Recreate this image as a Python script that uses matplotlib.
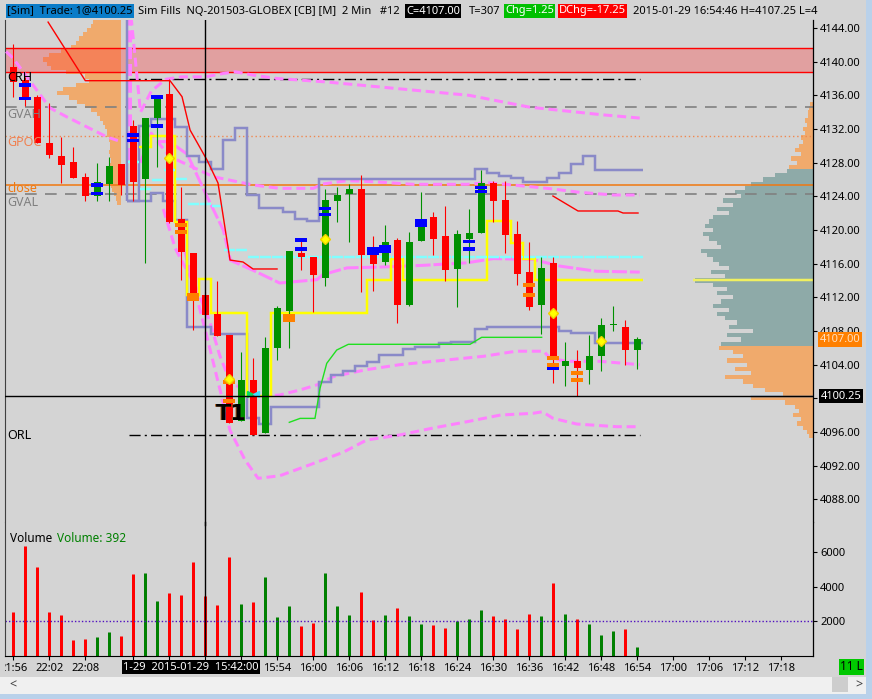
import numpy as np
import matplotlib.pyplot as plt
from matplotlib.patches import Rectangle

plt.rcParams['font.family'] = ['Noto Sans', 'DejaVu Sans']

W, H = 872, 699
BG = '#d4d4d4'

### 2 minute bars (index 0 = 21:56 prior session, 10 = 15:30 new session)
opens  = [4139.4, 4137.8, 4135.8, 4130.3, 4128.8, 4128.1, 4126.3, 4124.0, 4125.5, 4127.8,
          4132.4, 4126.1, 4133.3, 4136.2, 4121.3, 4117.3, 4112.3, 4110.0, 4107.5, 4097.3,
          4102.2, 4095.9, 4106.0, 4110.4, 4117.3, 4116.8, 4114.3, 4123.5, 4124.3, 4124.9,
          4117.0, 4116.2, 4118.8, 4111.1, 4118.7, 4121.5, 4119.3, 4115.4, 4118.9, 4119.7,
          4125.6, 4123.6, 4119.5, 4115.0, 4111.1, 4116.1, 4103.8, 4104.4, 4103.4, 4105.0,
          4108.75, 4108.5, 4105.7]
highs  = [4142.1, 4138.2, 4136.0, 4135.1, 4131.0, 4129.9, 4126.8, 4128.0, 4128.7, 4127.9,
          4133.1, 4133.3, 4135.9, 4138.0, 4125.1, 4117.3, 4112.6, 4113.9, 4107.5, 4105.5,
          4104.8, 4107.3, 4111.0, 4117.5, 4118.8, 4116.8, 4124.9, 4125.1, 4125.5, 4126.5,
          4119.3, 4120.6, 4119.0, 4119.8, 4124.5, 4122.1, 4122.9, 4120.0, 4122.5, 4127.1,
          4125.8, 4125.8, 4121.1, 4118.6, 4116.8, 4116.8, 4106.7, 4105.7, 4107.5, 4109.5,
          4111.0, 4109.3, 4107.25]
lows   = [4135.8, 4134.7, 4130.3, 4128.6, 4125.6, 4126.2, 4123.4, 4123.4, 4123.4, 4124.2,
          4123.4, 4116.1, 4127.5, 4120.8, 4114.1, 4108.1, 4109.9, 4107.4, 4097.1, 4097.3,
          4095.6, 4095.9, 4104.5, 4106.0, 4115.2, 4110.3, 4113.3, 4120.9, 4118.6, 4112.6,
          4112.8, 4115.8, 4109.0, 4111.0, 4118.7, 4117.0, 4113.9, 4110.8, 4116.1, 4119.7,
          4120.9, 4117.3, 4113.5, 4110.5, 4107.7, 4101.8, 4101.5, 4100.3, 4101.7, 4103.3,
          4108.0, 4104.0, 4103.5]
closes = [4137.6, 4135.8, 4130.3, 4128.9, 4127.7, 4126.2, 4124.0, 4125.7, 4127.6, 4125.3,
          4125.7, 4133.3, 4135.7, 4121.0, 4117.4, 4111.6, 4109.9, 4107.4, 4097.1, 4102.2,
          4095.6, 4106.0, 4110.7, 4117.5, 4116.8, 4114.7, 4123.6, 4124.2, 4124.9, 4117.0,
          4116.0, 4118.6, 4111.1, 4118.6, 4120.4, 4118.9, 4115.2, 4119.5, 4119.7, 4125.6,
          4123.5, 4119.4, 4114.8, 4110.9, 4115.5, 4104.6, 4104.4, 4103.6, 4105.0, 4108.7,
          4108.75, 4105.7, 4107.0]
volumes = [2540, 6350, 5150, 2540, 2350, 900, 975, 1090, 1360, 1130,
           4730, 4800, 3180, 3640, 3510, 5440, 3450, 2930, 5730, 2990,
           3120, 4570, 2250, 2870, 1710, 1900, 4800, 2870, 2350, 3700,
           2100, 2350, 2770, 2290, 1830, 1770, 1610, 2000, 2130, 2640,
           2290, 2130, 1560, 2410, 2290, 4220, 2410, 2130, 1830, 1190,
           1440, 1560, 540]

tick_bars   = [0, 3, 6, 10, 13, 16, 19, 22, 25, 28, 31, 34, 37, 40, 43, 46, 49, 52, 55, 58, 61, 64]
tick_labels = ['21:56', '22:02', '22:08', '', '', '', '', '15:54', '16:00', '16:06', '16:12',
               '16:18', '16:24', '16:30', '16:36', '16:42', '16:48', '16:54', '17:00', '17:06',
               '17:12', '17:18']

### reference levels
crh, orl = 4138.0, 4095.6
gvah, gval, gpoc, prev_close = 4134.6, 4124.28, 4131.2, 4125.3
band_top, band_bot = 4141.6, 4138.8
last_price, cross_price, cross_bar = 4107.0, 4100.25, 16

### step indicators (one value per bar, starting bar given)
yellow_start = 11
yellow = [4129.9, 4131.2, 4131.2, 4121.0, 4112.3, 4114.2, 4110.1, 4110.1, 4110.1, 4100.25,
          4100.25] + [4110.1] * 8 + [4114.1] * 2 + [4116.6] + [4114.1] * 7 + [4121.1] * 2 + \
         [4118.4, 4116.6] + [4114.1] * 9
slate_start = 10
slate_hi = [4123.4, 4132.3, 4133.15, 4133.15, 4132.2, 4128.8, 4128.1, 4127.2, 4130.7, 4132.1,
            4124.2, 4122.6, 4122.6, 4122.1, 4121.3, 4121.1] + [4126.06] * 13 + \
           [4127.2, 4126.8, 4126.4, 4126.2, 4125.75, 4125.75, 4126.15, 4126.8, 4127.85, 4128.8] + \
           [4127.1] * 4
slate_lo = [4123.4, 4123.4, 4124.4, 4123.4, 4121.2, 4108.5, 4108.5, 4107.7, 4107.7, 4107.7,
            4097.7, 4097.0] + [4099.0] * 4 + \
           [4101.9, 4102.8, 4103.3, 4103.85, 4104.35, 4105.15, 4105.15, 4105.85, 4106.15,
            4106.15, 4106.55, 4106.75, 4106.75, 4108.2] + [4108.5] * 6 + \
           [4108.0, 4107.8, 4107.8] + [4106.55] * 4
cyan_start = 10
cyan = [4128.1, 4124.9, 4125.9, 4127.1, 4126.1, 4123.1, 4123.1, 4122.9, 4117.6, 4117.6] + [4116.85] * 33

### line indicators as (bar, price)
red_line_a = [(2.9, 4144.7), (6.0, 4137.74), (13.06, 4137.74), (14.06, 4135.84), (14.73, 4131.88),
              (16.14, 4128.32), (17.06, 4125.58), (18.06, 4116.43), (19.14, 4116.2), (19.98, 4115.37),
              (21.98, 4115.37)]
red_line_b = [(44.97, 4124.04), (47.06, 4122.26), (50.39, 4122.26), (50.81, 4122.02), (52.06, 4122.02)]
lime_line = [(23.0, 4097.15), (23.9, 4097.62), (25.14, 4097.62), (25.56, 4101.19), (26.12, 4104.16),
             (26.95, 4105.74), (27.92, 4106.42), (38.06, 4106.42), (39.03, 4107.25), (44.03, 4107.25)]
band_pre = [(-0.6, 4141.2), (-0.03, 4140.44), (3.06, 4134.5), (4.47, 4133.43), (6.14, 4132.24),
            (7.81, 4131.05), (9.06, 4130.46)]
band_up2 = [(9.7, 4147.0), (10.6, 4134.0), (11.5, 4136.5), (12.7, 4137.9), (14.0, 4138.2), (16.0, 4138.2),
            (17.5, 4138.6), (18.5, 4138.8), (20.0, 4138.4), (22.0, 4138.0), (26.0, 4137.6),
            (32.0, 4136.8), (38.0, 4136.0), (43.0, 4134.6), (49.0, 4133.7), (52.2, 4133.3)]
band_up1 = [(10.6, 4128.0), (11.5, 4131.5), (12.3, 4130.0), (13.06, 4128.71), (16.67, 4126.33),
            (19.98, 4125.35), (22.2, 4124.95), (25.0, 4124.95), (25.8, 4125.47), (27.8, 4125.86),
            (30.0, 4125.74), (33.3, 4125.43), (37.8, 4125.43), (39.5, 4125.62), (41.6, 4125.35),
            (44.5, 4124.95), (47.2, 4124.48), (50.0, 4124.16), (52.2, 4124.16)]
band_mid = [(12.0, 4130.5), (13.0, 4130.5), (14.5, 4129.0), (16.0, 4124.4), (17.5, 4120.0),
            (18.1, 4116.4), (20.0, 4115.2), (22.2, 4113.7), (25.3, 4114.1), (25.8, 4114.7),
            (27.8, 4115.5), (30.6, 4115.6), (34.1, 4115.8), (37.8, 4116.1), (40.0, 4116.6),
            (43.3, 4116.5), (45.6, 4115.7), (48.6, 4115.1), (52.2, 4115.0)]
band_lo1 = [(12.5, 4122.5), (13.5, 4117.8), (15.3, 4113.0), (16.4, 4109.0), (17.2, 4105.1),
            (18.1, 4101.9), (20.3, 4100.2), (22.2, 4100.4), (23.9, 4101.0), (25.3, 4101.6),
            (26.7, 4102.6), (29.4, 4103.4), (32.2, 4104.0), (35.0, 4104.4), (39.2, 4105.0),
            (41.9, 4105.6), (44.2, 4105.6), (44.7, 4104.8), (46.1, 4104.4), (48.9, 4104.4),
            (52.2, 4104.0)]
band_lo2 = [(14.0, 4119.0), (16.0, 4108.1), (18.06, 4096.2), (19.3, 4092.7), (20.4, 4090.5),
            (22.2, 4090.8), (24.7, 4092.1), (27.5, 4093.6), (29.45, 4095.05), (32.2, 4095.65),
            (35.0, 4096.48), (37.8, 4097.22), (40.6, 4098.02), (43.3, 4098.22), (44.1, 4098.41),
            (44.97, 4097.63), (46.95, 4096.95), (50.3, 4096.63), (52.2, 4096.63)]

### fills and signals (bar, price)
blue_fills = [(1, 4137.23), (1, 4135.62), (7, 4125.35), (7, 4124.34), (10, 4131.29), (10, 4130.61),
              (12, 4135.8), (12, 4132.38), (24, 4118.81), (24, 4117.74), (26, 4122.53), (26, 4121.82),
              (38, 4118.61), (38, 4117.74), (39, 4125.03), (39, 4124.55), (45, 4103.52)]
blue_big = [(30, 4117.48), (31, 4117.77), (34, 4120.83)]
orange_fills = [(14, 4120.63), (14, 4119.8), (18, 4101.94), (18, 4099.72), (43, 4113.47), (43, 4112.28),
                (45, 4104.79), (45, 4104.0), (47, 4103.01), (47, 4102.18)]
orange_big = [(15, 4112.08), (23, 4109.58)]
diamonds = [(13, 4128.55), (18, 4102.3), (26, 4118.9), (45, 4110.1), (49, 4106.8)]

### volume at price profiles
left_levels = np.arange(4144.75, 4123.0, -0.5)
left_vap = [28, 30, 34, 38, 42, 45, 50, 60, 72, 78, 74, 70, 55, 36, 32, 45, 58, 64, 52, 44,
            36, 30, 24, 21, 18, 16, 14, 14, 12, 11, 11, 12, 11, 10, 11, 12, 11, 10, 11, 10,
            9, 7, 5, 4]
right_levels = np.arange(4135.0, 4095.25, -0.5)
right_vap = [3, 4, 5, 5, 8, 6, 10, 8, 12, 10, 14, 18, 12, 22, 16, 24, 26, 38, 50, 62,
             68, 78, 72, 90, 80, 96, 84, 100, 104, 108, 100, 110, 104, 96, 92, 112, 106, 100, 94, 84,
             102, 88, 118, 100, 86, 96, 80, 92, 100, 84, 96, 88, 76, 84, 60, 86, 72, 92, 94, 80,
             70, 86, 66, 78, 62, 88, 70, 60, 48, 30, 62, 28, 18, 14, 20, 12, 16, 10, 6, 4]
value_area = (4106.5, 4127.0)
profile_poc = 4114.1

# ---------------------------------------------------------------------------
X0, X1 = (5 - 13.3) / 12, (813 - 13.3) / 12
P_LO, P_HI = 4144 - (522 - 28) / 8.417, 4144 + (28 - 20) / 8.417
V_HI = 134 * 57.8
PX = 1 / 12.0                    # bar units per pixel
PT = 0.72                        # points per pixel

fig = plt.figure(figsize=(W / 100, H / 100), dpi=100, facecolor=BG)
ax = fig.add_axes([5 / W, 1 - 522 / H, 808 / W, 502 / H], facecolor=BG)
axv = fig.add_axes([5 / W, 1 - 656 / H, 808 / W, 134 / H], facecolor=BG)
for a in (ax, axv):
    a.set_xlim(X0, X1)
    for s in ('top', 'bottom', 'left'):
        a.spines[s].set_visible(False)
    a.spines['left'].set_visible(True)
    a.spines['left'].set_color('#404040')
    a.spines['left'].set_linewidth(0.8)
    a.spines['right'].set_color('black')
    a.spines['right'].set_linewidth(0.9)
    a.yaxis.tick_right()
    a.tick_params(axis='y', direction='out', length=3, width=0.8, pad=2, labelsize=8, colors='black')
ax.set_ylim(P_LO, P_HI)
axv.set_ylim(0, V_HI)
axv.spines['bottom'].set_visible(True)
axv.spines['bottom'].set_color('black')

ax.set_yticks(np.arange(4088, 4145, 4))
ax.set_yticklabels(['%.2f' % v for v in np.arange(4088, 4145, 4)])
ax.set_xticks([])
axv.set_yticks([2000, 4000, 6000])
axv.set_yticklabels(['2000', '4000', '6000'])
axv.set_xticks(tick_bars)
axv.set_xticklabels(tick_labels)
axv.tick_params(axis='x', direction='out', length=3, width=0.8, pad=2, labelsize=8, colors='black')
clip = Rectangle((5, 0), 808, H, transform=None)
for lab in axv.get_xticklabels():
    lab.set_clip_path(clip)

# profiles
ax.barh(left_levels, [-v * PX for v in left_vap], left=(121 - 13.3) / 12, height=0.5,
        color='#f0aa6c', linewidth=0, zorder=1)
rcol = ['#8eaaa8' if value_area[0] <= p <= value_area[1] else '#f0aa6c' for p in right_levels]
ax.barh(right_levels, [-v * PX for v in right_vap], left=X1, height=0.5, color=rcol,
        linewidth=0, zorder=1)
ax.hlines(profile_poc, X1 - 120 * PX, X1, color='#f0f060', lw=2.5 * PT, zorder=2)
ax.hlines(cross_price, X1 - 63 * PX, X1, color='#3070c0', lw=1, zorder=2)

# red band
ax.axhspan(band_bot, band_top, facecolor=(1, 0.2, 0.2), alpha=0.32, lw=0, zorder=2)
ax.axhline(band_top, color='red', lw=1, zorder=2)
ax.axhline(band_bot, color='red', lw=1, zorder=2)

# reference lines
ax.axhline(gvah, color='#808080', lw=1.2, dashes=(7, 5), zorder=2)
ax.axhline(gval, color='#808080', lw=1.2, dashes=(7, 5), zorder=2)
ax.axhline(gpoc, color='#f08850', lw=1, linestyle=(0, (1, 2)), zorder=2)
ax.axhline(prev_close, color='#f07810', lw=1.1, zorder=2)
for lvl in (crh, orl):
    ax.hlines(lvl, (129 - 13.3) / 12, (640 - 13.3) / 12, color='black', lw=1,
              linestyle=(0, (8, 3, 1.5, 3)), zorder=2)

lt = ax.get_yaxis_transform()
ax.text(2 / 808, 4138.1, 'CRH', transform=lt, fontsize=9, color='black', va='center', zorder=6)
ax.text(2 / 808, 4133.7, 'GVAH', transform=lt, fontsize=9, color='#808080', va='center', zorder=6)
ax.text(2 / 808, 4130.35, 'GPOC', transform=lt, fontsize=9, color='#f08050', va='center', zorder=6)
ax.text(2 / 808, 4124.95, 'close', transform=lt, fontsize=9, color='#f07810', va='center', zorder=6)
ax.text(2 / 808, 4123.3, 'GVAL', transform=lt, fontsize=9, color='#808080', va='center', zorder=6)
ax.text(2 / 808, orl, 'ORL', transform=lt, fontsize=9, color='black', va='center', zorder=6)


def xy(pts):
    return [p[0] for p in pts], [p[1] for p in pts]


# vwap bands
pink = '#ff80ff'
for band in (band_pre, band_up2, band_up1, band_lo1, band_lo2):
    ax.plot(*xy(band), color=pink, lw=3 * PT, dashes=(3, 1.6), zorder=3)
ax.plot(*xy(band_mid), color=pink, lw=3 * PT, dashes=(5, 1), zorder=3)
ax.vlines((130 - 13.3) / 12, 4128.3, P_HI, color=pink, lw=4 * PT, linestyles=(0, (3, 1.2)), zorder=3)

# step lines
ax.stairs(slate_hi, np.arange(len(slate_hi) + 1) + slate_start - 0.5, baseline=None,
          color='#8a8ac8', lw=2.5 * PT, zorder=3)
ax.stairs(slate_lo, np.arange(len(slate_lo) + 1) + slate_start - 0.5, baseline=None,
          color='#8a8ac8', lw=2.5 * PT, zorder=3)
ax.vlines(slate_start - 0.5, slate_hi[0], P_HI, color='#8a8ac8', lw=2.5 * PT, zorder=3)
ax.stairs(yellow, np.arange(len(yellow) + 1) + yellow_start - 0.5, baseline=None,
          color='#ffff00', lw=2.5 * PT, zorder=3)
cx = np.arange(len(cyan)) + cyan_start
ax.hlines(cyan, cx - 0.45, cx + 0.5, color='#80ffff', lw=2.5 * PT, zorder=3)

ax.plot(*xy(red_line_a), color='red', lw=1, zorder=3)
ax.plot(*xy(red_line_b), color='red', lw=1, zorder=3)
ax.plot(*xy(lime_line), color='#20e020', lw=1, zorder=3)

# candles
bars = np.arange(len(opens))
o, h, l, c = map(np.array, (opens, highs, lows, closes))
up = c >= o
cols = np.where(up, '#009000', '#ff0000')
ax.vlines(bars, l, h, colors=cols, lw=1.1 * PT, zorder=4)
ax.bar(bars, np.maximum(np.abs(c - o), 0.12), bottom=np.minimum(o, c), width=7 * PX,
       color=cols, linewidth=0, zorder=4)

# fills / markers
for pts, hgt, col in ((blue_fills, 0.42, '#0000ff'), (blue_big, 0.95, '#0000ff'),
                      (orange_fills, 0.45, '#ff8000'), (orange_big, 0.95, '#ff8000')):
    bx, by = xy(pts)
    ax.bar(bx, hgt, bottom=np.array(by) - hgt / 2, width=12 * PX, color=col, linewidth=0, zorder=5)
ax.plot(*xy(diamonds), linestyle='none', marker='D', ms=5.5, color='#ffff00', mec='#f0d000', zorder=6)
ax.plot([19.7], [4100.5], marker='>', ms=5, color='#00e060', linestyle='none', zorder=6)
ax.plot([20.2], [4100.5], marker='<', ms=5, color='#40e0ff', linestyle='none', zorder=6)

ax.text(18.05, 4098.1, 'T1', fontsize=16, fontweight='bold', color='#b06020',
        ha='center', va='center', family='DejaVu Sans', zorder=6)
ax.text(18.15, 4098.1, 'T1', fontsize=16, fontweight='bold', color='black',
        ha='center', va='center', family='DejaVu Sans', zorder=6)

# crosshair
ax.axhline(cross_price, color='black', lw=1, zorder=6)
for a in (ax, axv):
    a.axvline(cross_bar, color='black', lw=1, zorder=6)
fig.add_artist(plt.Line2D([(5 + (cross_bar - X0) / (X1 - X0) * 808) / W] * 2,
                          [1 - 522 / H, 1 - 525 / H], color='black', lw=1))

# volume
vcols = np.where(up, '#008000', '#ff0000')
axv.vlines(bars, 0, volumes, colors=vcols, lw=3 * PT)
axv.axhline(2000, color='#5010c0', lw=1, linestyle=(0, (1, 1.5)))
axv.text(5 / 808, 0.88, 'Volume', transform=axv.transAxes, fontsize=8.5, color='black', va='center')
axv.text(52 / 808, 0.88, 'Volume: 392', transform=axv.transAxes, fontsize=8.5, color='#008000',
         va='center')

# right axis tags
ax.text(1.008, last_price, '4107.00', transform=ax.get_yaxis_transform(), fontsize=8,
        color='#ffe0c0', va='center', ha='left', zorder=7,
        bbox=dict(boxstyle='square,pad=0.15', fc='#ff8000', ec='none'))
ax.text(1.010, cross_price, '4100.25', transform=ax.get_yaxis_transform(), fontsize=8,
        color='white', va='center', ha='left', zorder=7,
        bbox=dict(boxstyle='square,pad=0.15', fc='black', ec='none'))
for lab in ax.get_yticklabels() + axv.get_yticklabels():
    lab.set_zorder(1)

# title strip
def ftxt(x, y, s, fc=None, tc='black', size=8):
    kw = {}
    if fc:
        kw['bbox'] = dict(boxstyle='square,pad=0.12', fc=fc, ec='none')
    fig.text(x / W, 1 - y / H, s, fontsize=size, color=tc, va='center', ha='left', **kw)


ftxt(7, 11, '[Sim]  Trade: 1@4100.25', fc='#0a7cc8')
ftxt(138, 11, 'Sim Fills  NQ-201503-GLOBEX [CB] [M]  2 Min   #12')
ftxt(406, 11, 'C=4107.00', fc='black', tc='white')
ftxt(469, 11, 'T=307')
ftxt(505, 11, 'Chg=1.25', fc='#00c000', tc='white')
ftxt(559, 11, 'DChg=-17.25', fc='#ff0000', tc='white')
ftxt(633, 11, '2015-01-29 16:54:46 H=4107.25 L=4')

ftxt(123, 667, '1-29  2015-01-29  15:42:00', fc='black', tc='white')
ftxt(840, 667, '11 L', fc='#00c800', tc='black', size=8.5)

# window chrome
fig.add_artist(Rectangle((0, 1 - 694 / H), 866 / W, 17 / H, transform=fig.transFigure,
                         fc='#f0f0f0', ec='none'))
fig.add_artist(Rectangle((832 / W, 1 - 692 / H), 16 / W, 15 / H, transform=fig.transFigure,
                         fc='#cdcdcd', ec='none'))
fig.add_artist(Rectangle((866 / W, 0), 6 / W, 1, transform=fig.transFigure, fc='#b9d1ea', ec='none'))
fig.add_artist(Rectangle((0, 0), 1, 5 / H, transform=fig.transFigure, fc='#b9d1ea', ec='none'))
fig.text(9 / W, 1 - 685 / H, '<', fontsize=9, color='#404040', va='center', fontweight='bold')
fig.text(855 / W, 1 - 685 / H, '>', fontsize=9, color='#404040', va='center', fontweight='bold')

fig.savefig('out.png', dpi=100, facecolor=BG)
